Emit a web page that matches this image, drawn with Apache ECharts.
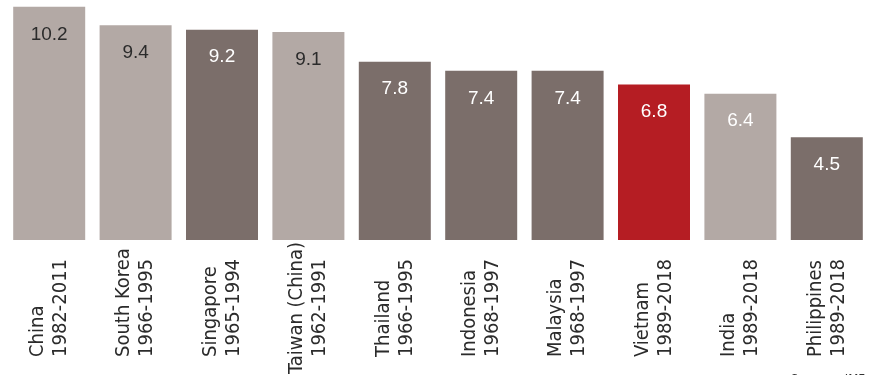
<!DOCTYPE html>
<html>
<head>
  <meta charset="utf-8">
  <title>growth</title>
  <script src="https://cdn.jsdelivr.net/npm/echarts@6/dist/echarts.min.js"></script>
</head>
<body style="margin:0;">
  <div id="main" style="width:870px;height:375px;"></div>
  <script type="text/javascript">
    // 国家 / 年份
    var countries = ['China', 'South Korea', 'Singapore', 'Taiwan (China)', 'Thailand',
      'Indonesia', 'Malaysia', 'Vietnam', 'India', 'Philippines']
    var periods = ['1982-2011', '1966-1995', '1965-1994', '1962-1991', '1966-1995',
      '1968-1997', '1968-1997', '1989-2018', '1989-2018', '1989-2018']
    var values = [10.2, 9.4, 9.2, 9.1, 7.8, 7.4, 7.4, 6.8, 6.4, 4.5]
    // 0 浅色, 1 深色, 2 红色
    var tones = [0, 0, 1, 0, 1, 1, 1, 2, 0, 1]
    var darkText = [true, true, false, true, false, false, false, false, false, false]

    var barColors = ['#b3a9a5', '#7b6e6a', '#b51d23']
    var narrow = "'Liberation Sans Narrow', 'DejaVu Sans Condensed', 'Liberation Sans', sans-serif"

    // 标签: 长的名字居中, 其他靠下对齐
    var cats = countries.map(function (c, i) {
      if (c.length > 12) {
        return '{c|' + c + '}\n{c|' + periods[i] + '}'
      }
      return '{a|' + c + '}\n{a|' + periods[i] + '}'
    })

    var seriesData = values.map(function (v, i) {
      return {
        value: v,
        itemStyle: { color: barColors[tones[i]] },
        label: { color: darkText[i] ? '#2b2b2b' : '#ffffff' }
      }
    })

    var myChart = echarts.init(document.getElementById('main'))

    var option = {
      animation: false,
      title: {
        text: 'Sources: IMF',
        right: 0,
        top: 368,
        textStyle: {
          fontFamily: narrow,
          fontSize: 13,
          fontWeight: 'normal',
          color: '#333'
        }
      },
      grid: {
        left: 6,
        right: 0,
        top: 0,
        bottom: 135,
        outerBoundsMode: 'none'
      },
      xAxis: {
        type: 'category',
        data: cats,
        axisLine: { show: false },
        axisTick: { show: false },
        axisLabel: {
          interval: 0,
          rotate: 90,
          margin: 68,
          align: 'center',
          verticalAlign: 'middle',
          fontFamily: narrow,
          fontSize: 20,
          lineHeight: 23,
          color: '#2b2b2b',
          rich: {
            a: {
              width: 98,
              align: 'left',
              fontFamily: narrow,
              fontSize: 20,
              lineHeight: 23,
              color: '#2b2b2b'
            },
            c: {
              align: 'center',
              fontFamily: narrow,
              fontSize: 20,
              lineHeight: 23,
              color: '#2b2b2b'
            }
          }
        }
      },
      yAxis: {
        type: 'value',
        min: 0,
        max: 10.5,
        show: false,
        splitLine: { show: false }
      },
      series: [{
        type: 'bar',
        data: seriesData,
        barWidth: 72,
        label: {
          show: true,
          position: 'insideTop',
          distance: 18,
          fontFamily: 'Liberation Sans',
          fontSize: 19
        }
      }]
    }

    myChart.setOption(option)
  </script>
</body>
</html>
